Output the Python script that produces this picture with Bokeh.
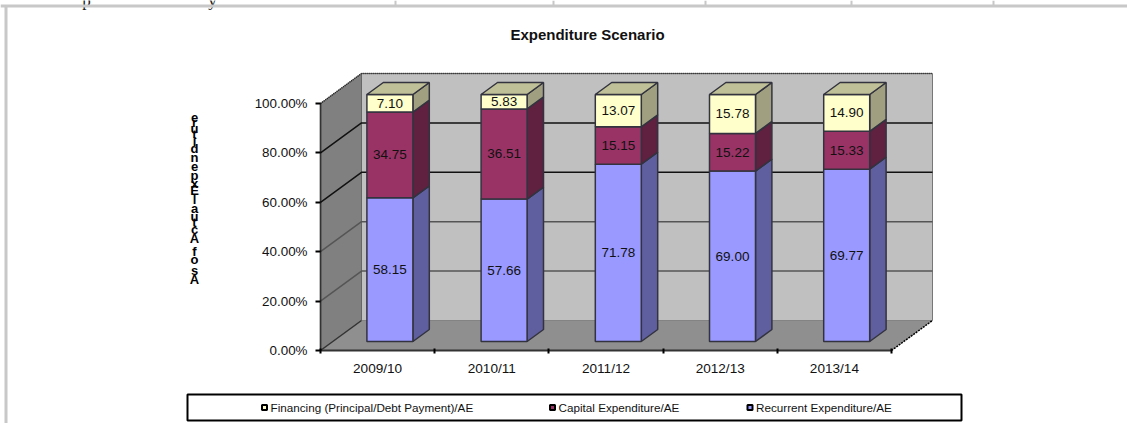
from bokeh.plotting import figure
from bokeh.embed import file_html
from bokeh.resources import INLINE
from bokeh.models import Range1d, FixedTicker
from bokeh.core.properties import value

categories = ["2009/10", "2010/11", "2011/12", "2012/13", "2013/14"]
recurrent = [58.15, 57.66, 71.78, 69.00, 69.77]
capital = [34.75, 36.51, 15.15, 15.22, 15.33]
financing = [7.10, 5.83, 13.07, 15.78, 14.90]
y_ticks = [0, 20, 40, 60, 80, 100]
title_text = "Expenditure Scenario"
y_title = "As of Actual Expenditure"
legend_names = ["Financing (Principal/Debt Payment)/AE", "Capital Expenditure/AE", "Recurrent Expenditure/AE"]

W, H = 1127, 423
FONT = value("Liberation Sans")
PX_X, PX_Y = 114.2, 2.47     # pixels per category, per percent
L, B = 320, 350              # page position of the front corner of the chart
DX, DY = 41 / PX_X, 30 / PX_Y  # full depth of the chart in data units

p = figure(width=W, height=H, output_backend="svg", toolbar_location=None,
           x_range=Range1d(-L / PX_X, (W - L) / PX_X), y_range=Range1d(-(H - B) / PX_Y, B / PX_Y),
           min_border=0, x_axis_type="linear", y_axis_type="linear",
           background_fill_color="white", border_fill_color="white", outline_line_color=None)
p.grid.visible = False

fx = lambda px: (px - L) / PX_X
fy = lambda py: (B - py) / PX_Y

# left axis
p.yaxis.fixed_location = 0
p.yaxis.bounds = (0, 100)
p.yaxis.ticker = FixedTicker(ticks=y_ticks)
p.yaxis.major_label_overrides = {v: f"{v:.2f}%" for v in y_ticks}
p.yaxis.major_label_text_font = "Liberation Sans"
p.yaxis.major_label_text_font_size = "13.4px"
p.yaxis.major_label_text_color = "#111111"
p.yaxis.major_tick_out = 5
p.yaxis.major_tick_in = 0
p.yaxis.major_tick_line_width = 2
p.yaxis.major_tick_line_color = "black"
p.yaxis.minor_tick_line_color = None
p.yaxis.axis_line_color = "black"
p.yaxis.axis_line_width = 2
p.yaxis.axis_line_dash = "1 1"
p.yaxis.major_label_standoff = 8

# bottom axis: labels at the category centres, ticks on the boundaries
n = len(categories)
p.xaxis.fixed_location = 0
p.xaxis.bounds = (0, n)
p.xaxis.ticker = FixedTicker(ticks=[i + .5 for i in range(n)], minor_ticks=list(range(n + 1)))
p.xaxis.major_label_overrides = {i + .5: c for i, c in enumerate(categories)}
p.xaxis.major_label_text_font = "Liberation Sans"
p.xaxis.major_label_text_font_size = "13.6px"
p.xaxis.major_label_text_color = "#111111"
p.xaxis.major_tick_line_color = None
p.xaxis.major_tick_out = 0
p.xaxis.major_tick_in = 0
p.xaxis.minor_tick_out = 3
p.xaxis.minor_tick_in = 2
p.xaxis.minor_tick_line_width = 2
p.xaxis.minor_tick_line_color = "black"
p.xaxis.axis_line_color = "#333333"
p.xaxis.axis_line_width = 2
p.xaxis.major_label_standoff = 7

x_end = float(n)
# walls and floor
p.patch([DX, x_end + DX, x_end + DX, DX], [DY, DY, 100 + DY, 100 + DY], fill_color="#C0C0C0", line_color="#777777", line_width=1)
p.patch([0, DX, DX, 0], [0, DY, 100 + DY, 100], fill_color="#808080", line_color="#666666", line_width=1)
p.patch([0, x_end, x_end + DX, DX], [0, 0, DY, DY], fill_color="#8F8F8F", line_color=None)

# grid lines
grid_cols = {20: "#555555", 40: "#555555", 60: "#111111", 80: "#111111"}
for v, c in grid_cols.items():
    p.line([0, DX, x_end + DX], [v, v + DY, v + DY], line_color=c, line_width=1.5)
p.line([0, DX, x_end + DX], [100, 100 + DY, 100 + DY], line_color="#222222", line_width=1.5, line_dash="1 1")
p.line([x_end, x_end + DX], [0, DY], line_color="black", line_width=1.5, line_dash="2 1")
p.line([0, DX], [0, DY], line_color="#333333", line_width=1.5)

# bars
BW = 46 / PX_X
D0, D1 = 0.3, 0.7
series = [(recurrent, "#9999FF", "#5F5F9F", None),
          (capital, "#993366", "#602040", None),
          (financing, "#FFFFCC", "#A0A080", "#C0C098")]
EDGE = "#33333F"
for i in range(n):
    x0 = i + .5 - BW / 2 + D0 * DX
    x1 = x0 + BW
    sx, sy = (D1 - D0) * DX, (D1 - D0) * DY
    y0 = D0 * DY
    base = 0
    for vals, front, side, cap in series:
        t = base + vals[i]
        a, b = y0 + base, y0 + t
        p.patch([x1, x1 + sx, x1 + sx, x1], [a, a + sy, b + sy, b], fill_color=side, line_color=EDGE, line_width=1.5)
        p.quad(left=x0, right=x1, bottom=a, top=b, fill_color=front, line_color=EDGE, line_width=1.5)
        if cap:
            p.patch([x0, x0 + sx, x1 + sx, x1], [b, b + sy, b + sy, b], fill_color=cap, line_color=EDGE, line_width=1.5)
        p.text(x=[(x0 + x1) / 2], y=[(a + b) / 2], text=[f"{vals[i]:.2f}"], text_align="center", text_baseline="middle",
               text_font=FONT, text_font_size="13.5px", text_color="#111111")
        base = t

# ---- furniture outside the plot area, given in page pixels ----
def lab(x, y, t, size, style="normal", align="center", color="#111111", font=FONT, baseline="middle"):
    p.text(x=[fx(x)], y=[fy(y)], text=[t], text_font=font, text_font_size=size, text_font_style=style,
           text_align=align, text_baseline=baseline, text_color=color)

def box(l, r, t, b, fill, line=None, lw=1):
    p.quad(left=fx(l), right=fx(r), top=fy(t), bottom=fy(b), fill_color=fill, line_color=line, line_width=lw)

lab(587, 34, title_text, "15px", "bold")

# the stacked, overlapping y-axis title
ys = [279, 270, 259, 251, 238, 229, 222, 216, 208, 199, 190, 183, 175, 166, 157, 148, 141, 134, 128, 122, 117]
letters = [c for c in y_title if c != " "]
for ch, yy in zip(letters, ys):
    lab(194, yy, ch, "13px", "bold", color="black")

# table rules behind the chart, and the descenders of the cut-off cell text above
for ch, x in [("p", 86), ("y", 212)]:
    lab(x, 0, ch, "17px", font=value("Liberation Serif"), baseline="alphabetic", color="#222222")
box(0, W, 4, 7, "#C8C8C8")
box(4, 7, 5, H, "#C8C8C8")
for x in [395, 553, 705, 851, 993]:
    box(x - 1, x + 1, 0, 6, "#C8C8C8")

# legend
box(187, 961, 394, 420, "white", "black", 2)
colors = ["#FFFFCC", "#993366", "#9999FF"]
lx = [264, 552, 749.5]
for name, c, x in zip(legend_names, colors, lx):
    box(x - 2.5, x + 2.5, 404.5, 409.5, c, "black", 2)
    lab(x + 6, 407, name, "11.7px", align="left")

open("out.html", "w").write(file_html(p, INLINE))
